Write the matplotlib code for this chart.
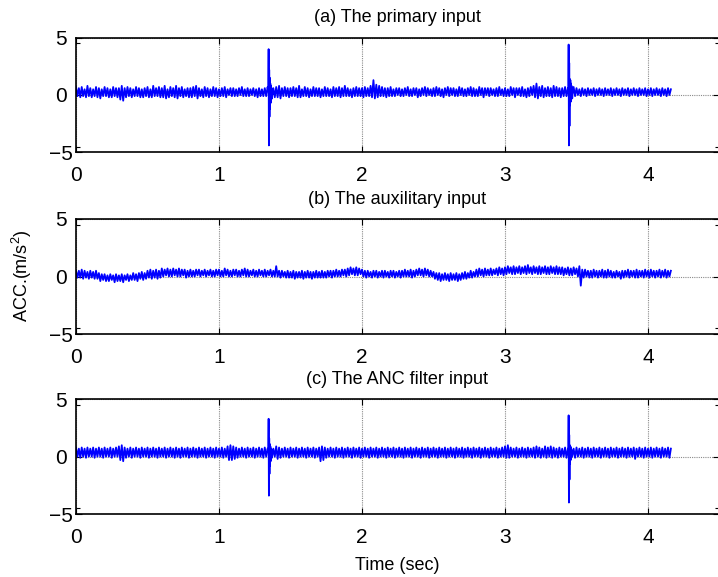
import numpy as np
import matplotlib
matplotlib.use("Agg")
import matplotlib.pyplot as plt

plt.rcParams['font.family'] = ['Liberation Sans', 'DejaVu Sans']
plt.rcParams['mathtext.default'] = 'regular'

# ---------------- data ----------------
sample_rate = 100          # samples / s for the base records
burst_rate = 500           # samples / s for the impact bursts

titles = ["(a) The primary input", "(b) The auxilitary input", "(c) The ANC filter input"]
x_ticks = [0, 1, 2, 3, 4]
y_ticks = [-5, 0, 5]

acc_primary = [
    0.7,-0.1,0.6,-0.2,0.7,-0.1,0.5,-0.2,0.8,-0.1,
    0.6,-0.2,0.5,-0.1,0.7,-0.2,0.6,-0.3,0.5,-0.1,
    0.7,-0.1,0.6,-0.2,0.5,-0.2,0.7,-0.1,0.6,-0.2,
    0.6,-0.4,0.8,-0.5,0.6,-0.2,0.7,-0.1,0.6,-0.2,
    0.5,-0.1,0.7,-0.1,0.6,-0.2,0.5,-0.2,0.6,-0.1,
    0.7,-0.2,0.5,-0.2,0.8,-0.1,0.6,-0.1,0.7,-0.2,
    0.6,-0.2,0.8,-0.3,0.5,-0.2,0.7,-0.1,0.6,-0.2,
    0.8,-0.3,0.6,-0.1,0.7,-0.2,0.5,-0.1,0.6,-0.2,
    0.6,-0.2,0.7,-0.1,0.8,-0.3,0.6,-0.1,0.5,-0.2,
    0.7,-0.1,0.6,-0.2,0.5,-0.1,0.7,-0.1,0.6,-0.2,
    0.5,-0.1,0.6,-0.1,0.7,-0.2,0.5,0.0,0.6,-0.1,
    0.6,-0.1,0.5,-0.1,0.6,0.0,0.7,-0.1,0.5,-0.1,
    0.6,-0.1,0.5,0.0,0.6,-0.1,0.5,-0.2,0.6,-0.1,
    0.5,-0.1,0.6,-0.1,0.7,-0.2,0.8,-0.3,0.6,-0.2,
    0.7,-0.2,0.8,-0.3,0.6,-0.1,0.7,-0.1,0.6,-0.2,
    0.6,-0.1,0.7,-0.1,0.6,-0.2,0.8,-0.2,0.5,-0.1,
    0.7,-0.1,0.6,-0.2,0.5,-0.1,0.7,-0.1,0.6,-0.1,
    0.6,-0.2,0.5,-0.1,0.7,-0.1,0.6,-0.1,0.5,-0.2,
    0.7,-0.1,0.6,-0.1,0.7,-0.2,0.6,-0.1,0.8,-0.1,
    0.6,-0.1,0.5,-0.2,0.6,-0.1,0.7,-0.1,0.6,-0.1,
    0.6,-0.2,0.7,-0.1,0.6,-0.1,0.8,-0.2,1.3,-0.3,
    0.9,-0.2,0.8,-0.1,0.7,-0.1,0.6,-0.2,0.6,-0.1,
    0.7,-0.1,0.5,-0.1,0.6,0.0,0.6,-0.1,0.5,-0.1,
    0.6,0.0,0.7,-0.1,0.5,-0.1,0.6,0.0,0.6,-0.2,
    0.5,-0.1,0.6,0.0,0.7,-0.1,0.6,0.0,0.5,-0.1,
    0.6,-0.1,0.7,0.0,0.6,-0.1,0.5,-0.2,0.6,0.0,
    0.7,-0.1,0.6,0.0,0.6,-0.1,0.5,-0.1,0.7,0.0,
    0.6,-0.1,0.5,-0.1,0.6,0.0,0.7,-0.1,0.6,-0.1,
    0.5,-0.1,0.7,0.0,0.6,-0.2,0.6,0.0,0.6,-0.1,
    0.6,0.0,0.5,-0.1,0.6,-0.1,0.7,0.0,0.5,-0.1,
    0.6,-0.1,0.5,-0.1,0.7,0.0,0.6,-0.2,0.6,0.0,
    0.6,-0.1,0.7,-0.1,0.5,-0.2,0.6,-0.1,0.7,0.0,
    0.8,-0.2,1.0,-0.3,0.7,-0.1,0.8,-0.2,0.6,-0.1,
    0.7,-0.1,0.6,-0.2,0.8,-0.1,0.7,-0.1,0.6,-0.2,
    0.6,-0.1,0.7,-0.1,0.6,-0.2,0.9,-0.3,0.7,-0.1,
    0.6,0.0,0.5,-0.1,0.6,0.0,0.5,-0.1,0.6,0.0,
    0.5,0.0,0.6,-0.1,0.5,0.0,0.6,0.0,0.5,-0.1,
    0.6,0.0,0.5,0.0,0.6,-0.1,0.5,0.0,0.6,0.0,
    0.5,-0.1,0.6,0.0,0.5,0.0,0.6,-0.1,0.5,0.0,
    0.6,0.0,0.5,-0.1,0.6,0.0,0.5,0.0,0.6,-0.1,
    0.5,0.0,0.6,-0.1,0.5,0.0,0.6,0.0,0.5,-0.1,
    0.6,0.0,0.5,-0.1,0.6,0.0,0.5,
]

acc_auxiliary = [
    0.5,-0.1,0.5,-0.1,0.6,-0.2,0.5,-0.1,0.4,-0.2,
    0.5,-0.1,0.4,-0.2,0.5,-0.2,0.3,-0.4,0.2,-0.3,
    0.2,-0.4,0.1,-0.4,0.2,-0.3,0.1,-0.5,0.2,-0.4,
    0.1,-0.4,0.2,-0.5,0.1,-0.3,0.2,-0.4,0.1,-0.3,
    0.3,-0.3,0.2,-0.4,0.3,-0.2,0.4,-0.3,0.3,-0.2,
    0.5,-0.1,0.6,-0.2,0.5,-0.1,0.6,-0.2,0.5,-0.1,
    0.7,0.0,0.6,0.1,0.7,0.0,0.6,0.0,0.7,0.1,
    0.6,0.0,0.7,0.0,0.6,0.1,0.6,-0.1,0.5,0.0,
    0.6,0.0,0.5,0.0,0.6,0.1,0.6,0.0,0.5,0.1,
    0.6,0.0,0.5,0.1,0.6,0.0,0.5,0.0,0.6,0.1,
    0.6,0.0,0.5,0.0,0.7,0.1,0.6,0.0,0.5,0.0,
    0.6,0.1,0.6,0.0,0.5,0.0,0.6,0.1,0.7,0.0,
    0.6,0.0,0.5,0.1,0.6,0.0,0.5,0.0,0.6,0.1,
    0.5,0.0,0.6,0.0,0.5,0.1,0.6,0.0,0.5,0.0,
    0.9,0.0,0.5,-0.1,0.5,0.0,0.4,-0.1,0.5,-0.1,
    0.4,-0.1,0.5,-0.2,0.4,-0.1,0.4,-0.1,0.5,-0.2,
    0.4,-0.1,0.5,-0.1,0.4,-0.2,0.4,-0.1,0.5,-0.1,
    0.4,-0.1,0.5,-0.1,0.4,-0.1,0.5,0.0,0.5,-0.1,
    0.5,0.0,0.6,0.0,0.5,0.0,0.6,0.1,0.6,0.0,
    0.7,0.1,0.8,0.2,0.7,0.1,0.8,0.1,0.7,0.2,
    0.6,0.0,0.5,-0.1,0.5,0.0,0.4,-0.1,0.5,0.0,
    0.5,-0.1,0.4,0.0,0.5,-0.1,0.5,0.0,0.4,-0.1,
    0.5,0.0,0.5,-0.1,0.4,0.0,0.5,-0.1,0.5,0.0,
    0.6,0.0,0.5,0.0,0.6,-0.1,0.5,0.0,0.6,0.1,
    0.7,0.1,0.6,0.0,0.7,0.1,0.6,0.0,0.5,0.0,
    0.4,-0.2,0.3,-0.3,0.3,-0.4,0.2,-0.3,0.3,-0.3,
    0.2,-0.4,0.3,-0.3,0.2,-0.3,0.3,-0.4,0.2,-0.3,
    0.3,-0.2,0.4,-0.2,0.3,-0.1,0.5,-0.1,0.4,0.0,
    0.6,0.0,0.7,0.1,0.6,0.0,0.7,0.1,0.6,0.1,
    0.7,0.1,0.6,0.2,0.7,0.1,0.8,0.2,0.7,0.1,
    0.8,0.2,0.9,0.3,0.8,0.2,0.9,0.2,0.8,0.3,
    0.9,0.2,0.8,0.3,0.9,0.2,1.0,0.3,0.8,0.2,
    0.9,0.3,0.8,0.2,0.9,0.2,0.8,0.3,0.9,0.2,
    0.8,0.2,0.9,0.3,0.8,0.2,0.9,0.2,0.8,0.2,
    0.8,0.1,0.7,0.2,0.8,0.1,0.7,0.1,0.8,0.2,
    0.7,0.0,0.9,-0.8,0.6,-0.1,0.6,0.0,0.5,-0.1,
    0.5,-0.1,0.6,0.0,0.5,-0.1,0.5,0.0,0.6,-0.1,
    0.5,-0.1,0.6,0.0,0.5,-0.1,0.4,-0.1,0.5,0.0,
    0.4,-0.2,0.5,-0.1,0.5,0.0,0.6,-0.1,0.5,0.0,
    0.5,-0.1,0.6,-0.1,0.5,0.0,0.5,-0.1,0.6,0.0,
    0.5,-0.1,0.6,0.0,0.5,-0.1,0.5,0.0,0.6,-0.1,
    0.5,0.0,0.6,-0.1,0.5,0.0,0.5,
]

acc_anc = [
    0.8,0.0,0.7,-0.1,0.8,0.0,0.7,-0.1,0.8,0.0,
    0.7,0.0,0.8,-0.1,0.7,0.0,0.8,0.0,0.7,-0.1,
    0.8,0.0,0.7,0.0,0.8,-0.1,0.7,0.0,0.8,0.0,
    0.9,-0.3,1.0,-0.4,0.8,-0.1,0.7,0.0,0.8,-0.1,
    0.7,0.0,0.8,0.0,0.7,-0.1,0.8,0.0,0.7,0.0,
    0.8,-0.1,0.7,0.0,0.8,0.0,0.7,-0.1,0.8,0.0,
    0.7,0.0,0.8,-0.1,0.7,0.0,0.8,0.0,0.7,-0.1,
    0.8,0.0,0.7,-0.1,0.8,0.0,0.7,0.0,0.8,-0.1,
    0.7,0.0,0.8,0.0,0.7,-0.1,0.8,0.0,0.7,0.0,
    0.8,-0.1,0.7,0.0,0.8,0.0,0.7,-0.1,0.8,0.0,
    0.7,0.0,0.8,-0.1,0.7,0.0,0.9,-0.3,1.0,-0.3,
    0.9,-0.2,0.8,-0.1,0.7,0.0,0.8,0.0,0.7,-0.1,
    0.8,0.0,0.7,0.0,0.8,-0.1,0.7,0.0,0.8,0.0,
    0.7,-0.1,0.8,0.0,0.7,0.0,0.8,-0.1,0.7,0.0,
    0.9,-0.2,0.8,-0.1,0.7,0.0,0.8,0.0,0.7,-0.1,
    0.8,0.0,0.7,0.0,0.8,-0.1,0.7,0.0,0.8,0.0,
    0.7,-0.1,0.8,0.0,0.7,0.0,0.8,-0.1,0.7,0.0,
    0.8,-0.4,0.9,-0.3,0.8,-0.1,0.7,0.0,0.8,0.0,
    0.7,-0.1,0.8,0.0,0.7,0.0,0.8,-0.1,0.7,0.0,
    0.8,0.0,0.7,-0.1,0.8,0.0,0.7,0.0,0.8,-0.1,
    0.7,0.0,0.8,0.0,0.7,-0.1,0.8,0.0,0.7,0.0,
    0.8,-0.1,0.7,0.0,0.8,0.0,0.7,-0.1,0.8,0.0,
    0.7,0.0,0.8,-0.1,0.7,0.0,0.8,0.0,0.7,-0.1,
    0.8,0.0,0.7,0.0,0.8,-0.1,0.7,0.0,0.8,0.0,
    0.7,-0.1,0.8,0.0,0.7,0.0,0.8,-0.1,0.7,0.0,
    0.8,0.0,0.7,-0.1,0.8,0.0,0.7,0.0,0.8,-0.1,
    0.7,0.0,0.8,0.0,0.7,-0.1,0.8,0.0,0.7,0.0,
    0.8,-0.1,0.7,0.0,0.8,0.0,0.7,-0.1,0.8,0.0,
    0.7,0.0,0.8,-0.1,0.7,0.0,0.8,0.0,0.7,-0.1,
    0.8,0.0,0.7,0.0,0.8,-0.1,0.7,0.0,0.8,0.0,
    0.9,-0.1,1.0,-0.1,0.8,0.0,0.7,0.0,0.8,-0.1,
    0.7,0.0,0.8,0.0,0.7,-0.1,0.8,0.0,0.7,0.0,
    0.8,-0.1,0.9,0.0,0.8,-0.1,0.7,0.0,0.9,-0.1,
    0.8,0.0,0.9,-0.1,0.8,0.0,0.7,-0.1,0.8,0.0,
    0.7,0.0,0.8,-0.1,0.7,0.0,0.8,0.0,0.7,-0.1,
    0.8,0.0,0.7,0.0,0.8,-0.1,0.7,0.0,0.8,0.0,
    0.7,-0.1,0.8,0.0,0.7,0.0,0.8,-0.1,0.7,0.0,
    0.8,0.0,0.7,-0.1,0.8,0.0,0.7,0.0,0.8,-0.1,
    0.7,0.0,0.8,0.0,0.7,-0.1,0.8,0.0,0.7,0.0,
    0.8,-0.2,0.7,0.0,0.8,0.0,0.7,-0.1,0.8,0.0,
    0.7,0.0,0.8,-0.1,0.7,0.0,0.8,0.0,0.7,-0.1,
    0.8,0.0,0.7,0.0,0.8,-0.1,0.7,
]

# impact bursts (start time in s, values sampled at burst_rate)
primary_burst_starts = [1.345, 3.443]
primary_burst_1 = [0.3, 4.0, -4.4, 2.2, -1.9, 1.5, -1.2, 1.0, -0.7, 0.8, -0.4, 0.6, -0.2, 0.5, 0.0]
primary_burst_2 = [0.3, 4.4, -4.4, 2.8, -2.7, 1.4, -0.9, 1.3, -0.6, 1.0, -0.3, 0.8, -0.1, 0.6, 0.0]

anc_burst_starts = [1.345, 3.443]
anc_burst_1 = [0.4, 3.3, -3.4, 1.6, -1.5, 1.1, -0.8, 0.9, -0.4, 0.7, -0.1, 0.6, 0.1]
anc_burst_2 = [0.4, 3.6, -4.0, 1.9, -2.0, 1.0, -0.6, 0.9, -0.3, 0.7, 0.0, 0.6, 0.1]


def build(base, starts, bursts):
    t = [np.arange(len(base)) / sample_rate]
    y = [np.asarray(base, float)]
    for t0, vals in zip(starts, bursts):
        t.append(t0 + np.arange(len(vals)) / burst_rate)
        y.append(np.asarray(vals, float))
    t = np.concatenate(t)
    y = np.concatenate(y)
    order = np.argsort(t, kind="stable")
    return t[order], y[order]


series = [
    build(acc_primary, primary_burst_starts, [primary_burst_1, primary_burst_2]),
    build(acc_auxiliary, [], []),
    build(acc_anc, anc_burst_starts, [anc_burst_1, anc_burst_2]),
]

# ---------------- figure ----------------
W, H = 718, 577
fig = plt.figure(figsize=(W / 100, H / 100), dpi=100)

left_px, right_px = 76, 719
axes_px = [(37.7, 152.3), (219, 334), (399.3, 514)]   # (top, bottom) in pixels

for (top, bot), (t, y), title in zip(axes_px, series, titles):
    ax = fig.add_axes([left_px / W, 1 - bot / H, (right_px - left_px) / W, (bot - top) / H])
    ax.plot(t, y, color=(0, 0, 1), lw=1.3)
    ax.set_xlim(0, (right_px - left_px) / 143.0)
    ax.set_ylim(-5, 5)
    ax.set_xticks(x_ticks)
    ax.set_xticklabels([str(v) for v in x_ticks])
    ax.set_yticks(y_ticks)
    ax.set_yticklabels(["\u22125", "0", "5"])
    ax.set_yticks([-4.5, 4.5], minor=True)
    ax.grid(True, which="major", color="#8a8a8a", linestyle=(0, (1, 1)), linewidth=0.8)
    ax.tick_params(which="major", direction="in", top=True, right=True, length=4,
                   width=0.8, labelsize=15, colors="black")
    ax.tick_params(axis="x", which="major", pad=10)
    ax.tick_params(axis="y", which="major", pad=11)
    ax.tick_params(which="minor", direction="in", left=True, right=True, length=3,
                   width=0.8, bottom=False, top=False)
    for lbl in ax.get_yticklabels():
        lbl.set_horizontalalignment("center")
    for sp in ax.spines.values():
        sp.set_linewidth(1.2)
    ax.set_title(title, fontsize=13, pad=11)

fig.text(22 / W, 1 - 276 / H, "ACC.(m/s$^{2}$)", rotation=90, ha="center", va="center", fontsize=13)
fig.text(397 / W, 1 - 565 / H, "Time (sec)", ha="center", va="center", fontsize=13)

fig.savefig("out.png", dpi=100)
